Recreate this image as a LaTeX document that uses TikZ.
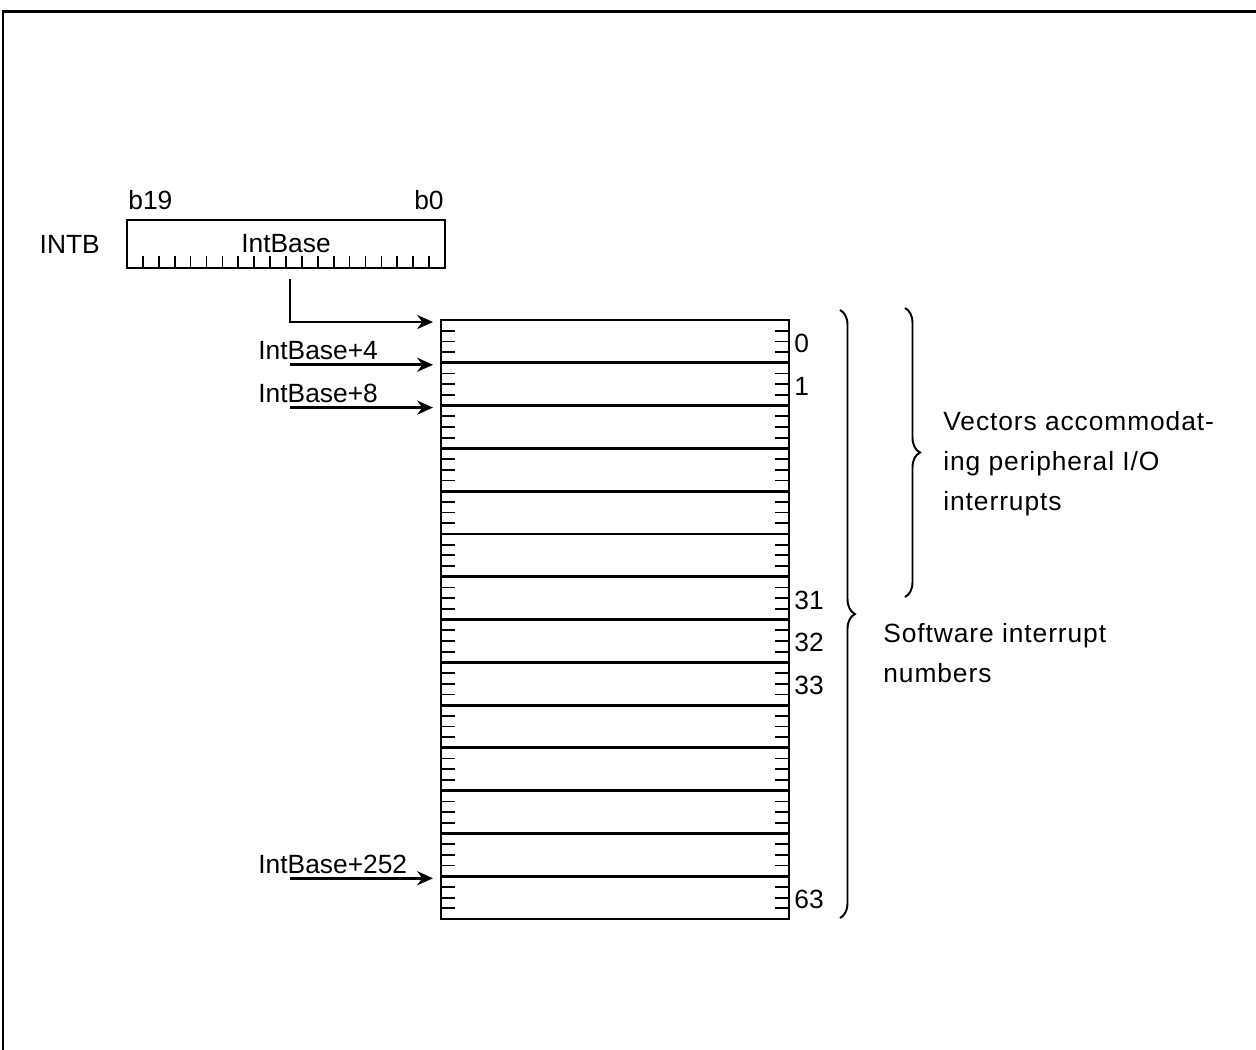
\documentclass[tikz,border=0pt]{standalone}
\usepackage{fontspec}
\setmainfont{Liberation Sans}
\usetikzlibrary{arrows.meta,positioning,decorations.pathreplacing}
\definecolor{inkblack}{HTML}{000000}

\begin{document}
\begin{tikzpicture}[x=0.02cm, y=-0.02cm, >={Stealth[length=9pt,width=8pt]},
    line width=1.6pt, font=\fontsize{15}{22.7}\selectfont, inkblack,
    vecrow/.style={draw, line width=1.6pt, minimum width=6.96cm, minimum height=0.8558cm,
      inner sep=0pt, outer sep=0pt, anchor=north west},
    regbox/.style={draw, line width=1.6pt, minimum width=6.36cm, minimum height=0.96cm,
      inner sep=0pt, outer sep=0pt, anchor=north west},
    tickmark/.style={line width=1pt},
    ptr/.style={->, line width=1.6pt, shorten >=0.16cm},
    idx/.style={anchor=west, inner sep=0pt},
    bracedec/.style={decorate, decoration={brace, amplitude=0.3cm}, line width=1.1pt},
    note/.style={align=left, anchor=west, inner sep=0pt,
      font=\fontsize{15}{22.7}\selectfont\addfontfeature{LetterSpace=3.5}}]
  \useasboundingbox (0,0) rectangle (1256,1050);
  \draw[line width=1.7pt] (3,1050) -- (3,12) -- (1256,12);

  % INTB register
  \node[regbox] (intb) at (127,220) {};
  \node (intbase) at (286,244) {IntBase};
  \foreach \k in {1,...,19}
    \draw[tickmark] ({127+\k*15.9},268) -- ++(0,-12);
  \node[left=0.4cm of intb] (intbname) {INTB};
  \node[anchor=base west, inner sep=0pt] (bhi) at (127,210) {b19};
  \node[anchor=base east, inner sep=0pt] (blo) at (445,210) {b0};

  % vector table
  \foreach \i in {0,...,13}
    \node[vecrow] (r\i) at (441,{320+\i*42.79}) {};
  \foreach \i in {0,...,13}
    \foreach \f in {0.25,0.5,0.75} {
      \draw[tickmark] (441,{320+(\i+\f)*42.79}) -- ++(14,0);
      \draw[tickmark] (789,{320+(\i+\f)*42.79}) -- ++(-14,0);
    }
  \node[idx] (n0) at ([xshift=0.08cm,yshift=-0.04cm]r0.east) {0};
  \node[idx] (n1) at ([xshift=0.08cm,yshift=-0.04cm]r1.east) {1};
  \node[idx] (n31) at ([xshift=0.08cm,yshift=-0.04cm]r6.east) {31};
  \node[idx] (n32) at ([xshift=0.08cm,yshift=-0.04cm]r7.east) {32};
  \node[idx] (n33) at ([xshift=0.08cm,yshift=-0.04cm]r8.east) {33};
  \node[idx] (n63) at ([xshift=0.08cm,yshift=-0.04cm]r13.east) {63};

  % pointers into the table
  \coordinate (tap) at (290,279);
  \draw[ptr] (tap) |- ([yshift=-0.04cm]r0.north west);
  \coordinate (p4) at ([xshift=-3.02cm,yshift=-0.04cm]r1.north west);
  \draw[ptr] (p4) -- (p4 -| r1.west);
  \node[anchor=base west, inner sep=0pt] (l4) at (257,359) {IntBase+4};
  \coordinate (p8) at ([xshift=-3.02cm,yshift=-0.04cm]r2.north west);
  \draw[ptr] (p8) -- (p8 -| r2.west);
  \node[anchor=base west, inner sep=0pt] (l8) at (257,402) {IntBase+8};
  \coordinate (p252) at ([xshift=-3.02cm,yshift=-0.04cm]r13.north west);
  \draw[ptr] (p252) -- (p252 -| r13.west);
  \node[anchor=base west, inner sep=0pt] (l252) at (257,873) {IntBase+252};

  % braces
  \draw[bracedec] (840,310) -- (840,918);
  \draw[bracedec] (905,308) -- (905,597);
  \node[note] (ionote) at (942,464) {Vectors accommodat-\\ing peripheral I/O\\interrupts};
  \node[note] (swnote) at (882,653) {Software interrupt\\numbers};
\end{tikzpicture}
\end{document}
